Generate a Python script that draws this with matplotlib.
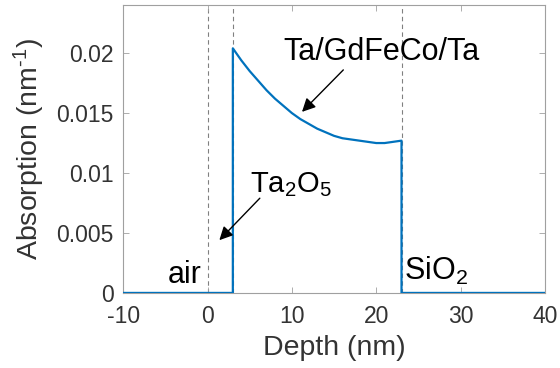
import matplotlib
matplotlib.use('Agg')
import matplotlib.pyplot as plt
from matplotlib.ticker import FuncFormatter

# Absorption profile
depth = [-10, 3, 3, 4, 5, 6, 7, 8, 9, 10, 11, 12, 13, 14, 15, 16, 17, 18, 19, 20, 21, 22, 23, 23, 40]
absorption = [0, 0, 0.0204, 0.0194, 0.0185, 0.0177, 0.0169, 0.0162, 0.0156, 0.0150, 0.0145,
              0.0141, 0.0137, 0.0134, 0.0131, 0.0129, 0.0128, 0.0127, 0.0126, 0.0125, 0.0125,
              0.0126, 0.0127, 0, 0]

# layer interfaces
interfaces = [0, 3, 23]

x_ticks = [-10, 0, 10, 20, 30, 40]
y_ticks = [0, 0.005, 0.01, 0.015, 0.02]

plt.rcParams['font.family'] = ['Liberation Sans', 'DejaVu Sans']
plt.rcParams['mathtext.default'] = 'regular'
plt.rcParams['axes.unicode_minus'] = False
text_col = '#333333'
arrow = dict(arrowstyle='-|>', color='black', lw=1.0, mutation_scale=20, shrinkA=0, shrinkB=0)

fig = plt.figure(figsize=(5.6, 3.68), dpi=100)
ax = fig.add_axes([0.22, 0.204, 0.753, 0.782])

for x in interfaces:
    ax.axvline(x, color='#808080', lw=0.8, ls=(0, (4, 3)), zorder=1)

ax.plot(depth, absorption, color='#0072BD', lw=1.6, zorder=3)

ax.set_xlim(-10, 40)
ax.set_ylim(0, 0.024)
ax.set_xticks(x_ticks)
ax.set_yticks(y_ticks)
ax.yaxis.set_major_formatter(FuncFormatter(lambda v, p: '%g' % v))
ax.tick_params(direction='in', length=4, width=0.6, color='#a0a0a0',
               top=True, right=True, labelsize=16.5, labelcolor=text_col)
ax.tick_params(axis='x', pad=9)
ax.tick_params(axis='y', pad=7)
for s in ax.spines.values():
    s.set_color('#a0a0a0')
    s.set_linewidth(0.8)

ax.set_xlabel('Depth (nm)', fontsize=20.5, color=text_col)
ax.set_ylabel('Absorption (nm$^{\u2010 1}$)', fontsize=20.5, color=text_col)
ax.xaxis.set_label_coords(0.5, -0.145)
ax.yaxis.set_label_coords(-0.18, 0.5)

# annotations
ax.text(20.6, 0.0194, 'Ta/GdFeCo/Ta', fontsize=22, ha='center', va='baseline')
ax.annotate('', xy=(11.2, 0.0151), xytext=(16.1, 0.0186), arrowprops=arrow)
ax.text(5.0, 0.0084, 'Ta$_2$O$_5$', fontsize=21, ha='left', va='baseline')
ax.annotate('', xy=(1.4, 0.0044), xytext=(6.2, 0.0079), arrowprops=arrow)
ax.text(-0.75, 0.0008, 'air', fontsize=22, ha='right', va='baseline')
ax.text(23.3, 0.0011, 'SiO$_2$', fontsize=22, ha='left', va='baseline')

fig.savefig('out.png', dpi=100)
